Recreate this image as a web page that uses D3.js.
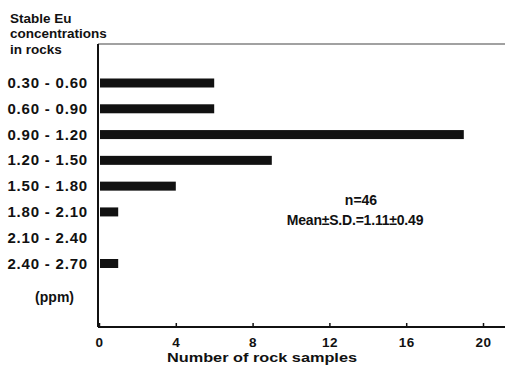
<!DOCTYPE html>
<html><head><meta charset="utf-8">
<script src="https://cdn.jsdelivr.net/npm/d3@7"></script>
<style>
body{margin:0;background:#fff;}
svg text{font-family:"Liberation Sans",Arial,sans-serif;font-weight:bold;fill:#111;}
</style></head>
<body><svg id="c" width="505" height="370"></svg>
<script>
const categories = ["0.30 - 0.60","0.60 - 0.90","0.90 - 1.20","1.20 - 1.50","1.50 - 1.80","1.80 - 2.10","2.10 - 2.40","2.40 - 2.70"];
const counts = [6, 6, 19, 9, 4, 1, 0, 1];
const xTicks = [0, 4, 8, 12, 16, 20];
const titleLines = ["Stable Eu", "concentrations", "in rocks"];
const unitLabel = "(ppm)";
const xTitle = "Number of rock samples";
const statLines = ["n=46", "Mean±S.D.=1.11±0.49"];

const svg = d3.select("#c");
const x = d3.scaleLinear().domain([0, 20]).range([99, 483]);
const y = d3.scalePoint().domain(categories).range([83, 263.5]);
const barH = 9;
const axisY = 327, axisTop = 44;

// frame lines
svg.append("line").attr("x1",98).attr("x2",505).attr("y1",axisTop).attr("y2",axisTop)
  .attr("stroke","#444").attr("stroke-width",1.2);
svg.append("line").attr("x1",98).attr("x2",98).attr("y1",axisTop).attr("y2",axisY)
  .attr("stroke","#111").attr("stroke-width",2);

// bars
svg.selectAll("rect.bar").data(categories).join("rect").attr("class","bar")
  .attr("x", x(0)+1).attr("y", d => y(d) - barH/2)
  .attr("width", (d,i) => Math.max(0, x(counts[i]) - x(0) - 1))
  .attr("height", barH).attr("fill","#111");

// y labels
svg.selectAll("text.cat").data(categories).join("text").attr("class","cat")
  .attr("x", 88).attr("y", d => y(d) + 5).attr("text-anchor","end")
  .attr("font-size", 15).attr("letter-spacing", 0.8).text(d => d);
svg.append("text").attr("x", 74).attr("y", 302).attr("text-anchor","end")
  .attr("font-size", 14).text(unitLabel);

// title
const tb = [23, 38, 54];
titleLines.forEach((t,i) => svg.append("text").attr("x", 10).attr("y", tb[i])
  .attr("font-size", 13.5).text(t));

// x axis
const xAxis = d3.axisBottom(x).tickValues(xTicks).tickSize(-4).tickPadding(8).tickFormat(d3.format("d"));
const g = svg.append("g").attr("transform", `translate(0,${axisY})`).call(xAxis);
g.select(".domain").remove();
g.selectAll(".tick line").attr("stroke","#111").attr("stroke-width",1.5);
g.selectAll(".tick text").attr("font-size", 13.5).attr("font-family","\"Liberation Sans\",Arial,sans-serif")
  .attr("font-weight","bold").attr("fill","#111").attr("y", 20).attr("dy", 0).attr("letter-spacing", 0.5);
svg.append("line").attr("x1",98).attr("x2",505).attr("y1",axisY).attr("y2",axisY)
  .attr("stroke","#111").attr("stroke-width",2);

svg.append("text").attr("x", 167).attr("y", 362)
  .attr("font-size", 12.5).attr("textLength", 190).attr("lengthAdjust","spacingAndGlyphs").text(xTitle);

// stats
svg.append("text").attr("x", 361).attr("y", 205).attr("text-anchor","middle").attr("font-size", 14).text(statLines[0]);
svg.append("text").attr("x", 355).attr("y", 225).attr("text-anchor","middle").attr("font-size", 14)
  .attr("letter-spacing", -0.2).text(statLines[1]);
</script></body></html>
